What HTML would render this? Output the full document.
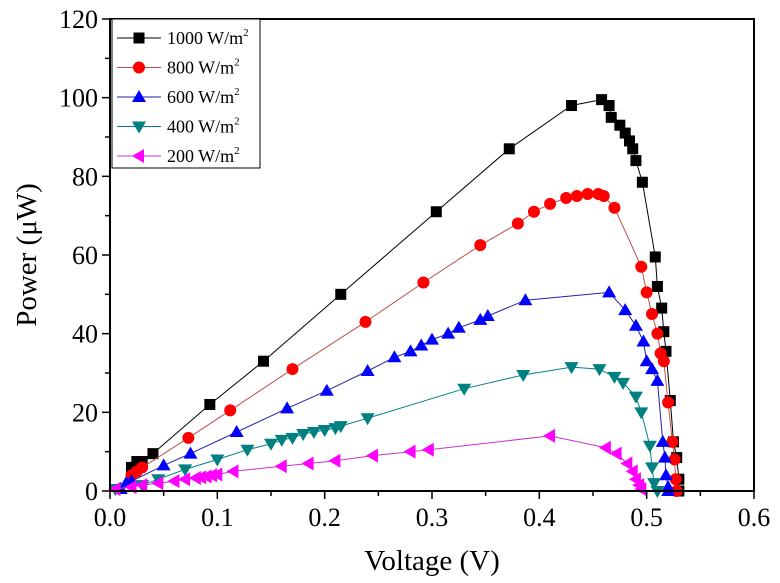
<!DOCTYPE html>
<html><head><meta charset="utf-8"><style>
body{margin:0;background:#fff;}
svg{display:block;}
svg text{font-family:"Liberation Serif","Times New Roman",serif;}
</style></head><body>
<svg id="chart" width="780" height="583" viewBox="0 0 780 583" xmlns="http://www.w3.org/2000/svg" font-family="Liberation Serif, serif"></svg>
<script>
const xTicks=[0,0.1,0.2,0.3,0.4,0.5,0.6];
const xTickLabels=["0.0","0.1","0.2","0.3","0.4","0.5","0.6"];
const yTicks=[0,20,40,60,80,100,120];
const yTickLabels=["0","20","40","60","80","100","120"];
const seriesNames=["1000 W/m","800 W/m","600 W/m","400 W/m","200 W/m"];
const v1000=[0.02,0.025,0.03,0.04,0.093,0.143,0.215,0.304,0.372,0.43,0.458,0.465,0.467,0.475,0.48,0.484,0.487,0.49,0.496,0.508,0.51,0.514,0.516,0.518,0.522,0.525,0.528,0.53,0.53];
const p1000=[6,7.5,7.5,9.5,22,33,50,71,87,98,99.5,98,95,93,91,89,87,84,78.5,59.5,52,46.5,40.5,35.5,23,12.5,8.5,3,0];
const v800=[0.02,0.025,0.03,0.073,0.112,0.17,0.238,0.292,0.345,0.38,0.395,0.41,0.425,0.435,0.445,0.455,0.46,0.47,0.495,0.5,0.505,0.51,0.513,0.516,0.52,0.524,0.526,0.527,0.528];
const p800=[4,5,6,13.5,20.5,31,43,53,62.5,68,71,73,74.5,75,75.5,75.5,75,72,57,50.5,45,40,35,33,22.5,12.5,8,3,0];
const v600=[0.01,0.015,0.02,0.05,0.075,0.118,0.165,0.202,0.24,0.265,0.28,0.29,0.3,0.315,0.325,0.345,0.352,0.387,0.465,0.48,0.49,0.497,0.5,0.505,0.51,0.515,0.517,0.518,0.52,0.52];
const p600=[0.5,2,2.5,6.5,9.5,15,21,25.5,30.5,34,35.5,37,38.5,40,41.5,43.5,44.5,48.5,50.5,46,42,38,33,31,28,12.5,8.5,4,1,0];
const v400=[0.005,0.03,0.045,0.07,0.1,0.128,0.15,0.16,0.17,0.18,0.19,0.2,0.21,0.215,0.24,0.33,0.385,0.43,0.456,0.47,0.478,0.49,0.495,0.503,0.505,0.507,0.51];
const p400=[0.5,1.5,3,5.5,8,10.5,12,13,13.5,14.5,15,15.5,16,16.5,18.5,26,29.5,31.5,31,29,27.5,24,20,11.5,6,2,0];
const v200=[0.005,0.02,0.03,0.045,0.06,0.07,0.08,0.085,0.09,0.095,0.1,0.115,0.16,0.185,0.21,0.245,0.28,0.297,0.41,0.462,0.472,0.482,0.487,0.49,0.493,0.495];
const p200=[0.5,1,1.5,2,2.5,3,3.3,3.5,3.7,4,4.2,5,6.3,7,7.7,9,10,10.5,14,11,9.5,7,5,3,1.5,0.5];

const NS="http://www.w3.org/2000/svg";
const svg=document.getElementById("chart");
const L=110,R=754,T=19,B=491;
const FF="Liberation Serif, serif";
const xs=v=>L+(v/0.6)*(R-L);
const ys=p=>B-(p/120)*(B-T);
function mk(tag,attrs,parent){const e=document.createElementNS(NS,tag);for(const k in attrs)e.setAttribute(k,attrs[k]);(parent||svg).appendChild(e);return e;}

const series=[
 {v:v1000,p:p1000,line:"#000",fill:"#000",shape:"square"},
 {v:v800,p:p800,line:"#c0504d",fill:"#ff0000",shape:"circle"},
 {v:v600,p:p600,line:"#2222aa",fill:"#0000ff",shape:"up"},
 {v:v400,p:p400,line:"#008080",fill:"#008080",shape:"down"},
 {v:v200,p:p200,line:"#cc33cc",fill:"#ff00ff",shape:"left"}
];
function marker(g,shape,x,y,fill){
 let e;
 if(shape==="square")e=mk("rect",{x:x-5.5,y:y-5.5,width:11,height:11,fill:fill},g);
 else if(shape==="circle")e=mk("circle",{cx:x,cy:y,r:6,fill:fill},g);
 else{let pts;
  if(shape==="up")pts=[[x,y-7],[x-7,y+5],[x+7,y+5]];
  else if(shape==="down")pts=[[x,y+7],[x-7,y-5],[x+7,y-5]];
  else pts=[[x-7,y],[x+5,y-7],[x+5,y+7]];
  e=mk("polygon",{points:pts.map(q=>q.join(",")).join(" "),fill:fill},g);}
 return e;
}
series.forEach((s,i)=>{
 const g=mk("g",{});
 
 
 const d=s.v.map((v,j)=>(j?"L":"M")+xs(v).toFixed(1)+","+ys(s.p[j]).toFixed(1)).join(" ");
 const ln=mk("path",{d:d,fill:"none",stroke:s.line,"stroke-width":1},g);
 
 
 s.v.forEach((v,j)=>{const m=marker(g,s.shape,xs(v),ys(s.p[j]),s.fill);
  
  });
});
const fr=mk("rect",{x:L,y:T,width:R-L,height:B-T,fill:"none",stroke:"#000","stroke-width":2});


xTicks.forEach((t,i)=>{
 const x=xs(t);
 mk("line",{x1:x,y1:B,x2:x,y2:B+8,stroke:"#000","stroke-width":1.5});
 if(i<xTicks.length-1){const xm=xs(t+0.05);mk("line",{x1:xm,y1:B,x2:xm,y2:B+5,stroke:"#000","stroke-width":1.5});}
 const tx=mk("text",{x:x,y:B+35,"text-anchor":"middle","font-size":26,"font-family":FF});
 tx.textContent=xTickLabels[i];
 
 
});
yTicks.forEach((t,i)=>{
 const y=ys(t);
 mk("line",{x1:L-8,y1:y,x2:L,y2:y,stroke:"#000","stroke-width":1.5});
 if(i<yTicks.length-1){const ym=ys(t+10);mk("line",{x1:L-5,y1:ym,x2:L,y2:ym,stroke:"#000","stroke-width":1.5});}
 const tx=mk("text",{x:L-12,y:y+9,"text-anchor":"end","font-size":26,"font-family":FF});
 tx.textContent=yTickLabels[i];
 
 
});
const xt=mk("text",{x:432,y:570,"text-anchor":"middle","font-size":29,"font-family":FF});
xt.textContent="Voltage (V)";


const yt=mk("text",{x:0,y:0,"text-anchor":"middle","font-size":29,"font-family":FF,transform:"translate(36,255) rotate(-90)"});
yt.textContent="Power (\u03bcW)";


const lg=mk("g",{});


mk("rect",{x:112,y:19,width:148,height:149,fill:"#fff",stroke:"#000","stroke-width":1},lg);
series.forEach((s,i)=>{
 const y=38+i*29.5;
 const eg=mk("g",{},lg);
 
 
 mk("line",{x1:117,y1:y,x2:161,y2:y,stroke:s.line,"stroke-width":1},eg);
 marker(eg,s.shape,139,y,s.fill);
 const t=mk("text",{x:167,y:y+6,"font-size":18,"font-family":FF},eg);
 t.textContent=seriesNames[i];
 const sup=mk("tspan",{dy:-8,"font-size":11},t);
 sup.textContent="2";
});
</script>
</body></html>
